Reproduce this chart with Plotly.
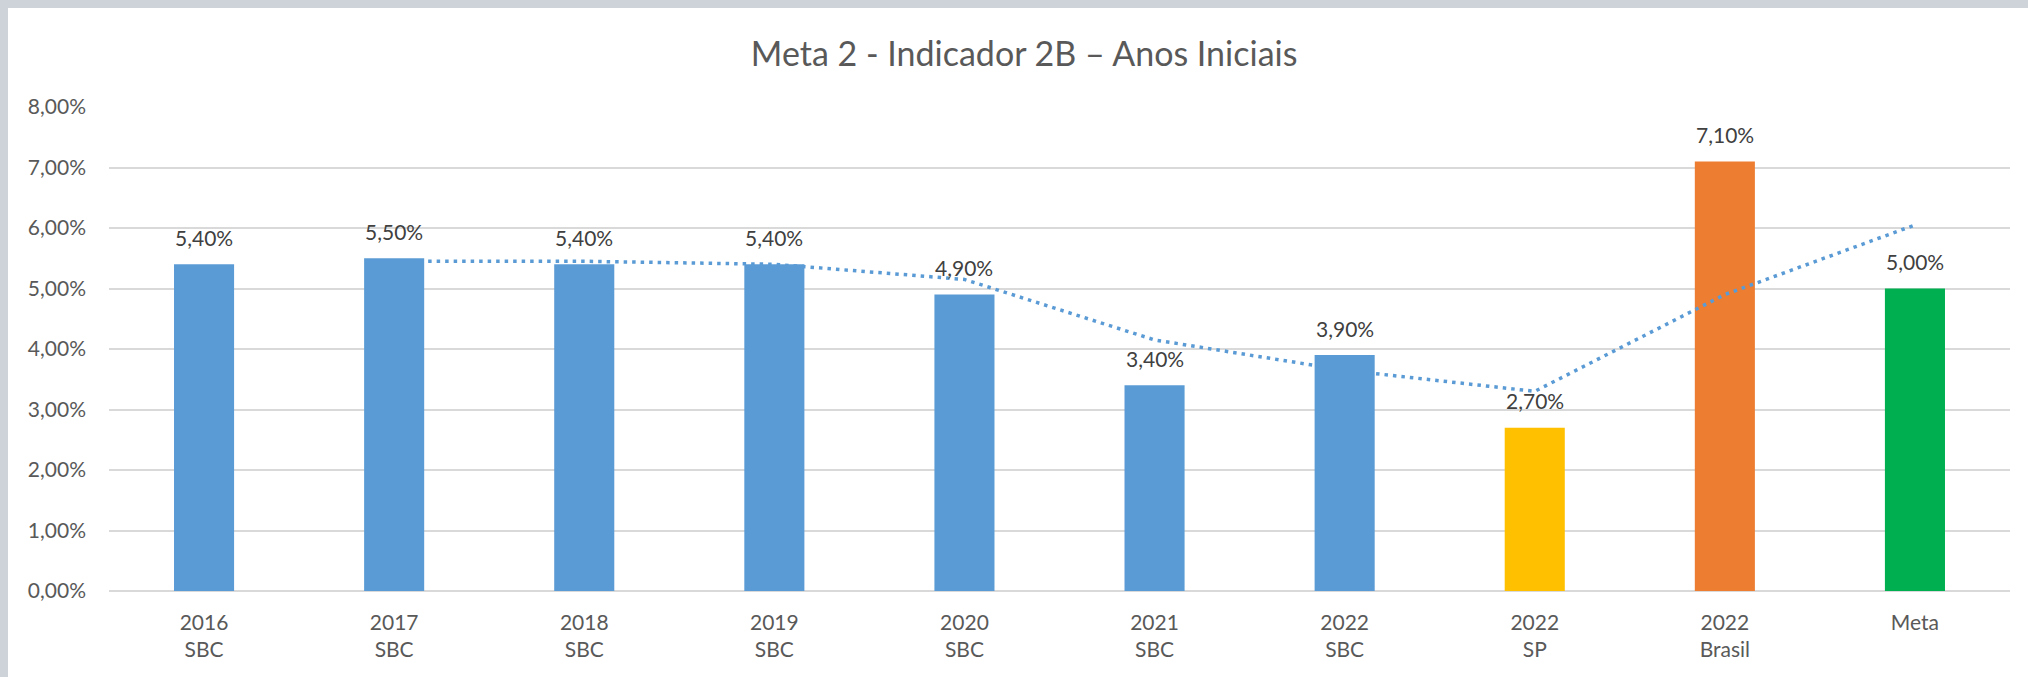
import plotly.graph_objects as go

categories = ['2016<br>SBC', '2017<br>SBC', '2018<br>SBC', '2019<br>SBC', '2020<br>SBC',
              '2021<br>SBC', '2022<br>SBC', '2022<br>SP', '2022<br>Brasil', 'Meta']
values = [5.40, 5.50, 5.40, 5.40, 4.90, 3.40, 3.90, 2.70, 7.10, 5.00]
bar_colors = ['#5B9BD5'] * 7 + ['#FFC000', '#ED7D31', '#00B050']

# linha de tendência (média móvel, 2 períodos)
trend_x = categories[1:]
trend_y = [5.45, 5.45, 5.40, 5.15, 4.15, 3.65, 3.30, 4.90, 6.05]

y_ticks = [0, 1, 2, 3, 4, 5, 6, 7, 8]
y_ticktext = ['0,00%', '1,00%', '2,00%', '3,00%', '4,00%', '5,00%', '6,00%', '7,00%', '8,00%']

W, H = 2028, 677
L, R, T, B = 109, 18, 107, 86
font = 'Lato, "Open Sans", sans-serif'

fig = go.Figure()

fig.add_trace(go.Bar(
    x=categories, y=values,
    marker=dict(color=bar_colors, line=dict(width=0)),
    showlegend=False, hoverinfo='skip',
))

fig.add_trace(go.Scatter(
    x=trend_x, y=trend_y, mode='lines',
    line=dict(color='#5B9BD5', width=3.5, dash='3.5px,5px'),
    showlegend=False, hoverinfo='skip',
))

# rótulos de dados
annotations = [
    dict(x=c, y=v, text=f'{v:.2f}%'.replace('.', ','), showarrow=False,
         yanchor='middle', yshift=27,
         font=dict(family=font, size=21, color='#404040'))
    for c, v in zip(categories, values)
]

# moldura cinza (topo e esquerda), em coordenadas de papel
pw = W - L - R
ph = H - T - B
top_px = (H - B) / ph          # y do topo da página
shapes = [
    dict(type='rect', xref='paper', yref='paper', layer='above',
         x0=-L / pw, x1=(W - L) / pw + 0.01, y0=(H - B - 8) / ph, y1=top_px + 0.05,
         fillcolor='#CDD3D8', line=dict(width=0)),
    dict(type='rect', xref='paper', yref='paper', layer='above',
         x0=-L / pw - 0.01, x1=(8 - L) / pw, y0=-B / ph - 0.05, y1=top_px + 0.05,
         fillcolor='#CDD3D8', line=dict(width=0)),
]

fig.update_layout(
    width=W, height=H,
    margin=dict(l=L, r=R, t=T, b=B, pad=0),
    paper_bgcolor='white', plot_bgcolor='white',
    bargap=0.684,
    title=dict(text='Meta 2 - Indicador 2B – Anos Iniciais', xref='container', x=0.505,
               xanchor='center', y=1 - 54 / H, yanchor='middle',
               font=dict(family=font, size=34, color='#595959')),
    font=dict(family=font, size=21, color='#595959'),
    annotations=annotations,
    shapes=shapes,
)

fig.update_yaxes(
    range=[0, 8], tickvals=y_ticks, ticktext=y_ticktext,
    showgrid=True, gridcolor='#D9D9D9', gridwidth=2,
    zeroline=True, zerolinecolor='#D9D9D9', zerolinewidth=2,
    showline=False, ticklabelstandoff=22,
    tickfont=dict(family=font, size=21, color='#595959'),
)
fig.update_xaxes(
    type='category', showgrid=False, showline=False,
    ticklabelstandoff=17,
    tickfont=dict(family=font, size=21, color='#595959'),
)

fig.write_html('out.html', config={'displayModeBar': False},
               post_script="document.body.style.margin='0';")
